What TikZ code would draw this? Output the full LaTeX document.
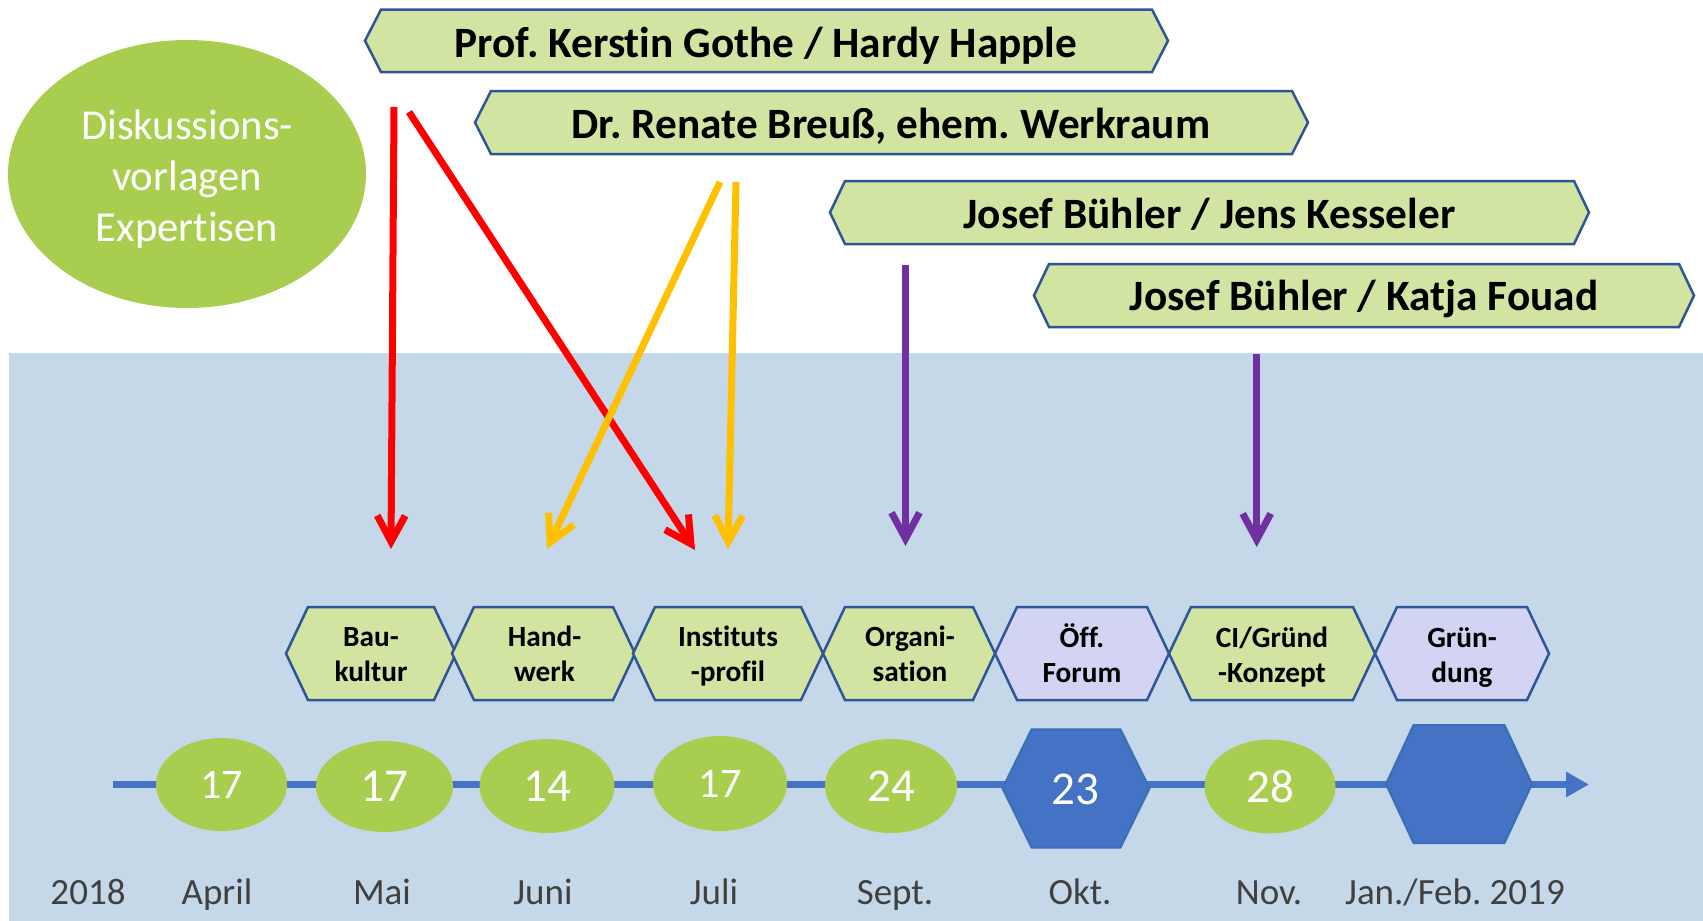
\documentclass[tikz,border=0pt]{standalone}
\usepackage{fontspec}
\setmainfont{Carlito}[Ligatures=NoCommon]
\usetikzlibrary{arrows.meta,shapes.geometric}
\definecolor{bgblue}{HTML}{C5D8E9}
\definecolor{lgreen}{HTML}{D1E4A2}
\definecolor{mgreen}{HTML}{A9CE4F}
\definecolor{lav}{HTML}{D3D3F3}
\definecolor{dblue}{HTML}{4472C4}
\definecolor{edgeblue}{HTML}{2F5597}
\definecolor{hexedge}{HTML}{3A6EB5}
\definecolor{arred}{HTML}{FF0000}
\definecolor{aryellow}{HTML}{FFC000}
\definecolor{arpurple}{HTML}{7030A0}
\definecolor{monthgray}{HTML}{404040}
\newcommand\hexshape[6]{\path[#1] (#2,{(#4+#5)/2}) -- ({#2+#6},#4) -- ({#3-#6},#4) -- (#3,{(#4+#5)/2}) -- ({#3-#6},#5) -- ({#2+#6},#5) -- cycle;}
\frenchspacing
\begin{document}
\begin{tikzpicture}[x=1pt,y=-1pt,
  banner/.style={fill=lgreen,draw=edgeblue,line width=2.5pt,line join=miter},
  bannertext/.style={anchor=base,inner sep=0pt,font=\fontsize{43.3}{50}\selectfont\bfseries},
  greenhex/.style={fill=lgreen,draw=edgeblue,line width=2.5pt},
  lavhex/.style={fill=lav,draw=edgeblue,line width=2.5pt},
  hextext/.style={anchor=base,inner sep=0pt,align=center,font=\fontsize{29.3}{35}\selectfont\bfseries},
  datebig/.style={ellipse,fill=mgreen,inner sep=0pt,text=white,font=\fontsize{47}{50}\selectfont},
  datesmall/.style={ellipse,fill=mgreen,inner sep=0pt,text=white,font=\fontsize{42}{50}\selectfont},
  bluehex/.style={fill=dblue,draw=hexedge,line width=2pt},
  hexnum/.style={inner sep=0pt,text=white,font=\fontsize{47}{50}\selectfont},
  month/.style={anchor=base,inner sep=0pt,text=monthgray,font=\fontsize{37}{42}\selectfont},
  conn/.style={line width=7pt,-{Straight Barb[length=26pt,width=28pt]}},
]
\useasboundingbox (0,0) rectangle (1703,921);
% background panel
\fill[bgblue] (9,353) rectangle (1703,921);
% discussion ellipse
\node[ellipse,fill=mgreen,minimum width=358pt,minimum height=268pt,inner sep=0pt] (disk) at (187,174) {};
\node[text=white,align=center,inner sep=0pt,font=\fontsize{42.7}{51}\selectfont] (disktext) at (187,179.5)
  {Diskussions-\\vorlagen\\Expertisen};
% banners
\hexshape{banner}{365}{1168}{9.5}{72}{16}
\node[bannertext] (b1) at (766,57) {Prof. Kerstin Gothe / Hardy Happle};
\hexshape{banner}{475}{1308}{91}{154}{16}
\node[bannertext] (b2) at (891,138.5) {Dr. Renate Breuß, ehem. Werkraum};
\hexshape{banner}{830}{1589}{181}{244}{15}
\node[bannertext] (b3) at (1209.5,228.5) {Josef Bühler / Jens Kesseler};
\hexshape{banner}{1034}{1694}{264}{327}{15}
\node[bannertext] (b4) at (1364,310.5) {Josef Bühler / Katja Fouad};
% topic hexagons
\hexshape{greenhex}{286}{456}{607}{700}{22}
\hexshape{greenhex}{452}{635}{607}{700}{22}
\hexshape{greenhex}{633}{823}{607}{700}{22}
\hexshape{greenhex}{823}{995}{607}{700}{22}
\hexshape{lavhex}{995}{1169}{607}{700}{22}
\hexshape{greenhex}{1169}{1375}{607}{700}{22}
\hexshape{lavhex}{1375}{1549}{607}{700}{22}
\node[hextext] (t1) at (371,681.5) {Bau-\\kultur};
\node[hextext] (t2) at (544.5,681.5) {Hand-\\werk};
\node[hextext] (t3) at (728,681.5) {Instituts\\-profil};
\node[hextext] (t4) at (910,681.5) {Organi-\\sation};
\node[hextext] (t5) at (1082,682) {Öff.\\Forum};
\node[hextext] (t6) at (1272,682) {CI/Gründ\\-Konzept};
\node[hextext] (t7) at (1462,682) {Grün-\\dung};
% timeline
\coordinate (tlstart) at (113,784.5);
\coordinate (tlend) at (1589,784.5);
\draw[dblue,line width=7.5pt,-{Triangle[length=23pt,width=24pt]}] (tlstart) -- (tlend);
% dates
\node[datesmall,minimum width=131pt,minimum height=93pt] (d1) at (221.5,784.5) {17};
\node[datebig,minimum width=137pt,minimum height=91pt] (d2) at (384.5,786.5) {17};
\node[datebig,minimum width=135pt,minimum height=94pt] (d3) at (547,786) {14};
\node[datesmall,minimum width=134pt,minimum height=95pt] (d4) at (720,783.5) {17};
\node[datebig,minimum width=132pt,minimum height=94pt] (d5) at (891,786) {24};
\hexshape{bluehex}{1002.5}{1149.5}{729.3}{847.5}{29}
\node[hexnum] (d6) at (1075.5,789) {23};
\node[datebig,minimum width=131pt,minimum height=94pt] (d7) at (1270,786.5) {28};
\hexshape{bluehex}{1386}{1532}{725}{843}{27.5}
% months
\node[month] (m0) at (88,904) {2018};
\node[month] (m1) at (217,904) {April};
\node[month] (m2) at (382,904) {Mai};
\node[month] (m3) at (543,904) {Juni};
\node[month] (m4) at (714,904) {Juli};
\node[month] (m5) at (895,904) {Sept.};
\node[month] (m6) at (1080,904) {Okt.};
\node[month] (m7) at (1269,904) {Nov.};
\node[month] (m8) at (1455,904) {Jan./Feb. 2019};
% arrows
\coordinate (r1s) at (394,107);   \coordinate (r1e) at (391,549);
\coordinate (r2s) at (409,112);   \coordinate (r2e) at (695,550);
\coordinate (y1s) at (720,182);   \coordinate (y1e) at (547,549);
\coordinate (y2s) at (736,182);   \coordinate (y2e) at (728,549);
\coordinate (p1s) at (905.5,265); \coordinate (p1e) at (905.5,546);
\coordinate (p2s) at (1256.7,354);\coordinate (p2e) at (1256.7,547);
\draw[conn,arred] (r1s) -- (r1e);
\draw[conn,arred] (r2s) -- (r2e);
\draw[conn,aryellow] (y1s) -- (y1e);
\draw[conn,aryellow] (y2s) -- (y2e);
\draw[conn,arpurple] (p1s) -- (p1e);
\draw[conn,arpurple] (p2s) -- (p2e);
\end{tikzpicture}
\end{document}
